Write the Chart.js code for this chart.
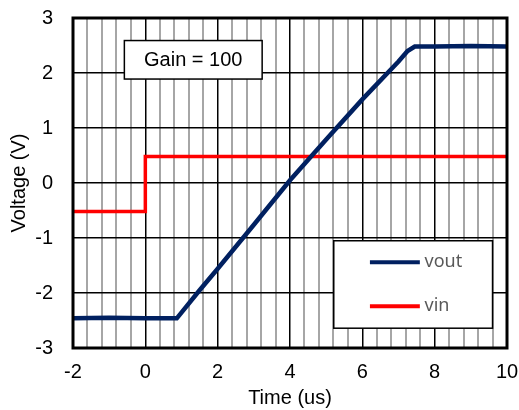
<!DOCTYPE html>
<html>
<head>
<meta charset="utf-8">
<script src="https://cdn.jsdelivr.net/npm/chart.js@4"></script>
<style>
  html, body { margin: 0; padding: 0; background: #fff; }
  #wrap { width: 519px; height: 410px; }
</style>
</head>
<body>
<div id="wrap"><canvas id="scope"></canvas></div>
<script>
// measured step response, time in us, volts
const voutTime = [-2, -1, 0, 0.87, 1.5, 2, 3, 4, 5, 6, 7, 7.25, 7.45, 8, 9, 10];
const voutVolts = [-2.46, -2.45, -2.46, -2.46, -1.95, -1.56, -0.76, 0.05, 0.79, 1.52, 2.21, 2.4, 2.48, 2.48, 2.49, 2.48];
const vinTime = [-2, 0, 0, 10];
const vinVolts = [-0.52, -0.52, 0.48, 0.48];

const seriesNames = ['vout', 'vin'];
const seriesColors = ['#002060', '#ff0000'];
const gainText = 'Gain = 100';

const xTicks = [-2, 0, 2, 4, 6, 8, 10];
const yTicks = [-3, -2, -1, 0, 1, 2, 3];
const minorPerMajor = 5;

const toPoints = (xs, ys) => xs.map((x, i) => ({x: x, y: ys[i]}));
const isMajorX = v => xTicks.some(t => Math.abs(t - v) < 1e-6);

// major ticks plus four minor grid lines between each pair
const xGridValues = () => {
    const vals = [];
    for (let i = 0; i < xTicks.length - 1; i++) {
        const step = (xTicks[i + 1] - xTicks[i]) / minorPerMajor;
        for (let k = 0; k < minorPerMajor; k++) vals.push(xTicks[i] + k * step);
    }
    vals.push(xTicks[xTicks.length - 1]);
    return vals;
};

const labelFont = {family: "'Liberation Sans', Arial, sans-serif", size: 20};

const overlays = {
    id: 'overlays',
    afterDraw(chart) {
        const {ctx, chartArea: a, scales: {x, y}} = chart;
        ctx.save();

        // gain annotation
        const gx0 = x.getPixelForValue(-0.58), gx1 = x.getPixelForValue(3.23);
        const gy0 = y.getPixelForValue(2.59), gy1 = y.getPixelForValue(1.89);
        ctx.fillStyle = '#fff';
        ctx.fillRect(gx0, gy0, gx1 - gx0, gy1 - gy0);
        ctx.strokeStyle = '#000';
        ctx.lineWidth = 1.5;
        ctx.strokeRect(gx0, gy0, gx1 - gx0, gy1 - gy0);
        ctx.fillStyle = '#000';
        ctx.font = "20px 'Liberation Sans', Arial, sans-serif";
        ctx.textAlign = 'center';
        ctx.textBaseline = 'middle';
        ctx.fillText(gainText, (gx0 + gx1) / 2, (gy0 + gy1) / 2 + 1);

        // legend box
        const lx0 = x.getPixelForValue(5.21), lx1 = x.getPixelForValue(9.6);
        const ly0 = y.getPixelForValue(-1.05), ly1 = y.getPixelForValue(-2.64);
        ctx.fillStyle = '#fff';
        ctx.fillRect(lx0, ly0, lx1 - lx0, ly1 - ly0);
        ctx.strokeRect(lx0, ly0, lx1 - lx0, ly1 - ly0);
        const rows = [-1.44, -2.24];
        ctx.font = "18px 'Noto Sans', sans-serif";
        ctx.textAlign = 'left';
        seriesNames.forEach((name, i) => {
            const ry = y.getPixelForValue(rows[i]);
            ctx.strokeStyle = seriesColors[i];
            ctx.lineWidth = 4;
            ctx.beginPath();
            ctx.moveTo(x.getPixelForValue(6.21), ry);
            ctx.lineTo(x.getPixelForValue(7.59), ry);
            ctx.stroke();
            ctx.fillStyle = '#595959';
            ctx.fillText(name, x.getPixelForValue(7.72), ry);
        });

        // plot frame
        ctx.strokeStyle = '#000';
        ctx.lineWidth = 3;
        ctx.strokeRect(a.left, a.top, a.right - a.left, a.bottom - a.top);
        ctx.restore();
    }
};

const ctx = document.getElementById('scope').getContext('2d');
new Chart(ctx, {
    type: 'scatter',
    data: {
        datasets: [{
            label: seriesNames[0],
            data: toPoints(voutTime, voutVolts),
            showLine: true,
            borderColor: seriesColors[0],
            borderWidth: 4.5,
            pointRadius: 0,
            tension: 0
        }, {
            label: seriesNames[1],
            data: toPoints(vinTime, vinVolts),
            showLine: true,
            borderColor: seriesColors[1],
            borderWidth: 3.5,
            pointRadius: 0,
            tension: 0
        }]
    },
    options: {
        responsive: true,
        maintainAspectRatio: false,
        animation: false,
        layout: {padding: {top: 18, right: 12, left: 0, bottom: 0}},
        plugins: {legend: {display: false}, tooltip: {enabled: false}},
        scales: {
            x: {
                type: 'linear',
                min: -2,
                max: 10,
                afterBuildTicks: scale => {
                    scale.ticks = xGridValues().map(v => ({value: v}));
                },
                afterFit: scale => {
                    scale.height = 62;
                    scale.paddingLeft = 0;
                    scale.paddingRight = 0;
                },
                border: {display: false},
                grid: {
                    drawTicks: false,
                    color: c => isMajorX(c.tick.value) ? '#000' : '#a6a6a6',
                    lineWidth: c => isMajorX(c.tick.value) ? 1.5 : 2
                },
                ticks: {
                    autoSkip: false,
                    maxRotation: 0,
                    padding: 12,
                    color: '#000',
                    font: labelFont,
                    callback: v => isMajorX(v) ? String(Math.round(v)) : ''
                },
                title: {
                    display: true,
                    text: 'Time (us)',
                    color: '#000',
                    font: labelFont,
                    padding: {top: 0, bottom: 0}
                }
            },
            y: {
                type: 'linear',
                min: -3,
                max: 3,
                afterFit: scale => {
                    scale.width = 73;
                    scale.paddingTop = 0;
                    scale.paddingBottom = 0;
                },
                border: {display: false},
                grid: {drawTicks: false, color: '#000', lineWidth: 1.5},
                ticks: {
                    stepSize: 1,
                    padding: 20,
                    color: '#000',
                    font: labelFont,
                    callback: v => yTicks.includes(v) ? String(v) : ''
                },
                title: {
                    display: true,
                    text: 'Voltage (V)',
                    color: '#000',
                    font: labelFont,
                    padding: {top: 7, bottom: 0}
                }
            }
        }
    },
    plugins: [overlays]
});
</script>
</body>
</html>
